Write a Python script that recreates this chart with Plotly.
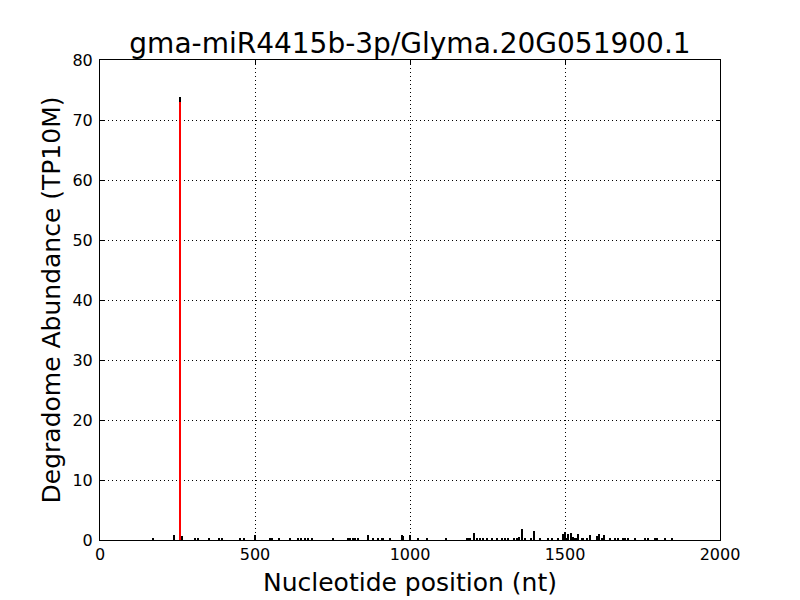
import plotly.graph_objects as go

# Degradome tags: positions (nt) and abundance (TP10M)
positions = [171, 239, 258, 265, 308, 317, 352, 385, 394, 452, 465, 500, 548, 555, 577, 613, 639, 648,
             661, 671, 683, 752, 800, 806, 816, 823, 832, 865, 881, 897, 909, 913, 935, 973, 978,
             1000, 1026, 1055, 1116, 1183, 1188, 1194, 1207, 1215, 1226, 1236, 1248, 1264, 1281,
             1296, 1306, 1316, 1335, 1344, 1352, 1361, 1371, 1392, 1400, 1419, 1446, 1457, 1478,
             1495, 1500, 1505, 1511, 1518, 1527, 1532, 1538, 1543, 1554, 1559, 1570, 1581, 1602,
             1609, 1619, 1626, 1645, 1661, 1672, 1688, 1694, 1704, 1726, 1758, 1769, 1790, 1797,
             1823, 1845]
abundance = [0.2, 0.8, 73.8, 0.7, 0.3, 0.3, 0.2, 0.3, 0.3, 0.3, 0.3, 0.8, 0.3, 0.3, 0.2, 0.2, 0.3, 0.3,
             0.3, 0.3, 0.2, 0.2, 0.2, 0.2, 0.3, 0.2, 0.3, 0.8, 0.3, 0.3, 0.3, 0.2, 0.2, 0.9, 0.6,
             0.9, 0.3, 0.2, 0.2, 0.3, 0.3, 0.3, 1.1, 0.3, 0.3, 0.2, 0.3, 0.2, 0.2,
             0.3, 0.3, 0.2, 0.3, 0.3, 0.5, 1.8, 0.3, 0.4, 1.5, 0.2, 0.2, 0.2, 0.2,
             1.0, 1.3, 0.4, 1.0, 1.1, 0.5, 0.4, 0.4, 1.0, 0.3, 0.3, 0.3, 0.8, 0.6,
             1.0, 0.4, 0.8, 0.3, 0.2, 0.2, 0.3, 0.2, 0.2, 0.2, 0.3, 0.2, 0.2, 0.2,
             0.2, 0.2]

cleavage_pos = [258]
cleavage_val = [73]

title = "gma-miR4415b-3p/Glyma.20G051900.1"
x_ticks = [0, 500, 1000, 1500, 2000]
y_ticks = [0, 10, 20, 30, 40, 50, 60, 70, 80]

fig = go.Figure()
fig.add_trace(go.Bar(x=positions, y=abundance, width=3.5,
                     marker=dict(color="black", line=dict(width=0)), showlegend=False))
fig.add_trace(go.Bar(x=cleavage_pos, y=cleavage_val, width=6,
                     marker=dict(color="red", line=dict(width=0)), showlegend=False))

font = "DejaVu Sans, sans-serif"
axis_common = dict(showline=True, linecolor="black", linewidth=1, mirror="ticks",
                   ticks="inside", ticklen=4, tickcolor="black", automargin=False,
                   showgrid=True, gridcolor="black", griddash="1px,3px", gridwidth=1,
                   zeroline=False, tickfont=dict(size=16, color="black", family=font))

# page body has an 8px default margin, so the figure is 792x592
W, H = 792, 592
fig.update_layout(
    width=W, height=H, barmode="overlay", bargap=0,
    paper_bgcolor="white", plot_bgcolor="white",
    margin=dict(l=92, r=80, t=52, b=60, autoexpand=False),
    title=dict(text=title, x=(410 - 8) / W, xanchor="center", y=1 - 35 / H, yanchor="middle",
               font=dict(size=28, color="black", family=font)),
    xaxis=dict(range=[0, 2000], tickvals=x_ticks, **axis_common,
               title=dict(text="Nucleotide position (nt)", font=dict(size=25, color="black", family=font), standoff=10)),
    yaxis=dict(range=[0, 80], tickvals=y_ticks, **axis_common, ticklabelstandoff=3,
               title=dict(text="Degradome Abundance (TP10M)", font=dict(size=25, color="black", family=font), standoff=4)),
)

fig.write_html("out.html")
